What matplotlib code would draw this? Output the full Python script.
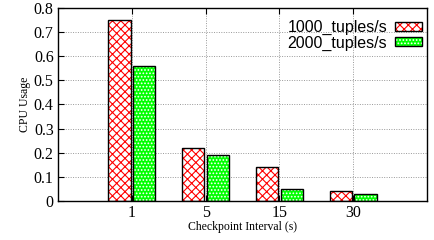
import numpy as np
import matplotlib
matplotlib.use("Agg")
import matplotlib.pyplot as plt

# 数据
intervals = ["1", "5", "15", "30"]
rate_1000 = [0.75, 0.22, 0.14, 0.04]
rate_2000 = [0.56, 0.19, 0.05, 0.03]
series_names = ["1000_tuples/s", "2000_tuples/s"]
y_ticks = [0, 0.1, 0.2, 0.3, 0.4, 0.5, 0.6, 0.7, 0.8]

plt.rcParams['font.family'] = ['Liberation Serif', 'DejaVu Serif']
plt.rcParams['hatch.linewidth'] = 0.8

fig = plt.figure(figsize=(4.35, 2.4), dpi=100)
ax = fig.add_axes([0.133, 0.1625, 0.849, 0.805])

x = np.arange(len(intervals))
w = 0.3
off = 0.165

# 红色交叉网格
ax.bar(x - off, rate_1000, w, color='white', edgecolor='red', hatch='xxxx', linewidth=0, zorder=2)
ax.bar(x - off, rate_1000, w, fill=False, edgecolor='black', linewidth=1.0, zorder=3)
# 绿色点阵
ax.bar(x + off, rate_2000, w, color='#00ff00', edgecolor='white', hatch='.....', linewidth=0, zorder=2)
ax.bar(x + off, rate_2000, w, fill=False, edgecolor='black', linewidth=1.0, zorder=3)

# 图例句柄
h1 = plt.Rectangle((0, 0), 1, 1, facecolor='white', edgecolor='red', hatch='xxxx', linewidth=0)
h2 = plt.Rectangle((0, 0), 1, 1, facecolor='#00ff00', edgecolor='white', hatch='.....', linewidth=0)
b1 = plt.Rectangle((0, 0), 1, 1, fill=False, edgecolor='black', linewidth=1.0)
b2 = plt.Rectangle((0, 0), 1, 1, fill=False, edgecolor='black', linewidth=1.0)
leg = ax.legend([(h1, b1), (h2, b2)], series_names, loc='upper right', markerfirst=False,
                frameon=False, prop={'family': ['Liberation Sans'], 'size': 11.5},
                handlelength=1.7, handleheight=0.45, labelspacing=0.0, handletextpad=0.5,
                borderaxespad=0.0, borderpad=0.3, bbox_to_anchor=(1.0, 0.96))

ax.set_xlim(-1, 4)
ax.set_ylim(0, 0.8)
ax.set_xticks(x)
ax.set_xticklabels(intervals)
ax.set_yticks(y_ticks)
ax.set_yticklabels(["0", "0.1", "0.2", "0.3", "0.4", "0.5", "0.6", "0.7", "0.8"])
ax.tick_params(direction='in', labelsize=11.5, length=4, top=True, right=False, pad=3)
ax.grid(True, linestyle=(0, (1, 1.5)), color='#999999', linewidth=0.7, zorder=0)
ax.set_axisbelow(True)
for s in ax.spines.values():
    s.set_linewidth(1.0)

ax.set_xlabel("Checkpoint Interval (s)", fontsize=8.5, labelpad=0)
ax.set_ylabel("CPU Usage", fontsize=8.5, labelpad=2)

fig.savefig("out.png", dpi=100)
